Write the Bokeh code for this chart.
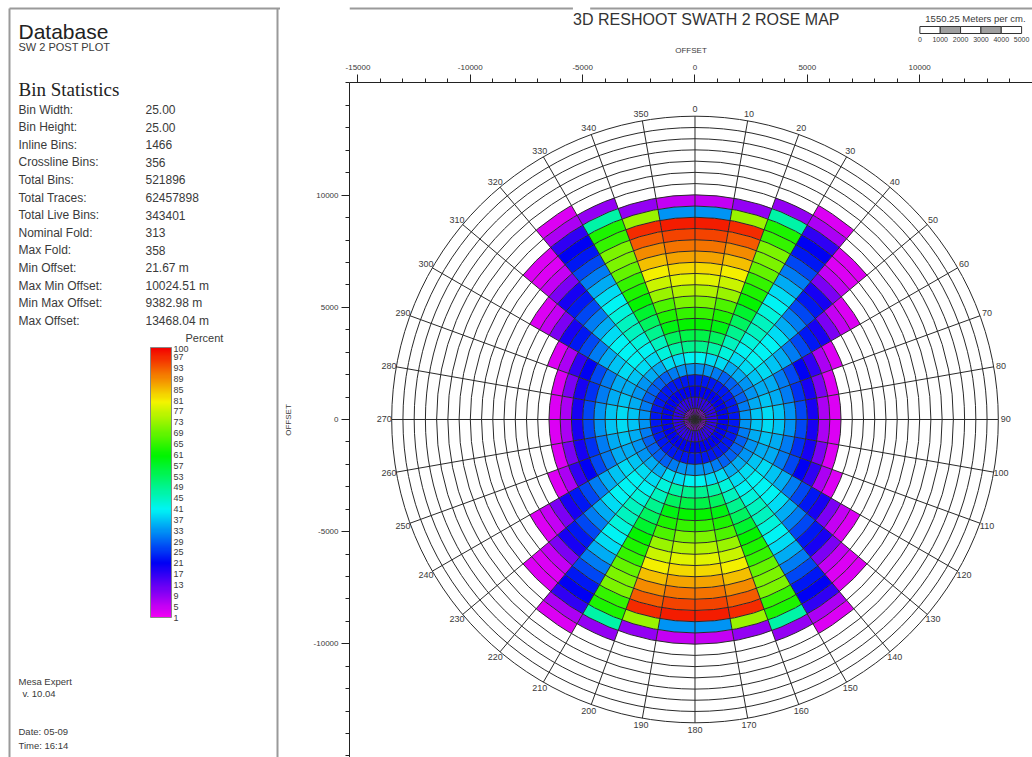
import math
import colorsys
from bokeh.plotting import figure
from bokeh.layouts import row, column
from bokeh.models import (Range1d, LinearColorMapper, ColorBar, FixedTicker, AllLabels,
                          ColumnDataSource, PrintfTickFormatter)
from bokeh.transform import linear_cmap
from bokeh.core.properties import value
from bokeh.embed import file_html
from bokeh.resources import INLINE

# ---------------- data ----------------
RING_STEP = 500        # metres per ring
N_RINGS = 27           # grid rings out to 13500 m
SECTOR_STEP = 10       # degrees per azimuth sector

# percent of max fold, ring by ring from the centre outward, first quadrant sectors
S00 = [9, 17, 21, 23, 33, 41, 49, 55, 61, 65, 71, 75, 79, 83, 87, 91, 95, 98, 33, 5]
S10 = [9, 17, 21, 23, 33, 39, 47, 53, 59, 63, 67, 73, 77, 81, 85, 89, 93, 97, 73, 9]
S20 = [9, 17, 21, 23, 31, 39, 43, 45, 49, 53, 57, 61, 63, 65, 69, 71, 71, 65, 63, 47, 9]
S30 = [9, 17, 21, 23, 29, 35, 39, 41, 43, 45, 45, 43, 41, 39, 35, 31, 27, 23, 21, 17, 7, 3]
S40 = [9, 17, 21, 23, 29, 35, 39, 41, 41, 41, 39, 35, 31, 27, 23, 19, 11, 5, 3, 3]
S50 = [9, 17, 21, 23, 29, 33, 37, 39, 37, 35, 31, 27, 23, 19, 11, 5, 3]
S60 = [9, 17, 21, 23, 29, 33, 35, 35, 31, 27, 21, 17, 7, 3]
S70 = [9, 17, 21, 23, 31, 35, 37, 35, 31, 25, 19, 11, 3]
S80 = [9, 17, 21, 23, 33, 37, 39, 37, 33, 27, 19, 7, 3]
QUADRANT = [S00, S10, S20, S30, S40, S50, S60, S70, S80]

STAT_NAMES = ["Bin Width:", "Bin Height:", "Inline Bins:", "Crossline Bins:", "Total Bins:",
              "Total Traces:", "Total Live Bins:", "Nominal Fold:", "Max Fold:", "Min Offset:",
              "Max Min Offset:", "Min Max Offset:", "Max Offset:"]
STAT_VALUES = ["25.00", "25.00", "1466", "356", "521896", "62457898", "343401", "313", "358",
               "21.67 m", "10024.51 m", "9382.98 m", "13468.04 m"]
CBAR_TICKS = [1, 5, 9, 13, 17, 21, 25, 29, 33, 37, 41, 45, 49, 53, 57, 61, 65, 69, 73, 77,
              81, 85, 89, 93, 97, 100]
X_MAJOR = [-15000, -10000, -5000, 0, 5000, 10000]
Y_MAJOR = [-10000, -5000, 0, 5000, 10000]
MINOR = list(range(-15000, 15001, 1000))
SCALE_LABELS = ["0", "1000", "2000", "3000", "4000", "5000"]

# ---------------- palette ----------------
PALETTE = []
for i in range(256):
    t = i / 255.0
    r, g, b = colorsys.hsv_to_rgb(300.0 * (1 - t) / 360.0, 1.0, 0.96)
    PALETTE.append("#%02x%02x%02x" % (int(r * 255), int(g * 255), int(b * 255)))

SANS = value("Liberation Sans")
SERIF = value("Liberation Serif")
TXT = "#3a3a3a"
BORDER = "#9a9a9a"

# ---------------- left panel ----------------
LW, LH = 280, 757
left = figure(width=LW, height=LH, x_range=Range1d(0, LW), y_range=Range1d(LH, 0),
              x_axis_type=None, y_axis_type=None, toolbar_location=None,
              output_backend="svg", min_border=0)
left.grid.visible = False
left.outline_line_color = None
left.segment(x0=[9, 9, 277], y0=[8, 8, 8], x1=[LW, 9, 277], y1=[8, LH, LH],
             line_color=BORDER, line_width=2)
left.text(x=[18], y=[31], text=["Database"], text_font=SANS, text_font_size="21px",
          text_color="#222222", text_baseline="middle")
left.text(x=[18], y=[46], text=["SW 2 POST PLOT"], text_font=SANS, text_font_size="11px",
          text_color=TXT, text_baseline="middle")
left.text(x=[18], y=[89], text=["Bin Statistics"], text_font=SERIF, text_font_size="19px",
          text_color="#222222", text_baseline="middle")
ys = [109 + 17.6 * i for i in range(len(STAT_NAMES))]
left.text(x=[18] * len(STAT_NAMES), y=ys, text=STAT_NAMES, text_font=SANS,
          text_font_size="12px", text_color=TXT, text_baseline="middle")
left.text(x=[145] * len(STAT_VALUES), y=ys, text=STAT_VALUES, text_font=SANS,
          text_font_size="12px", text_color=TXT, text_baseline="middle")
left.text(x=[185], y=[337], text=["Percent"], text_font=SANS, text_font_size="11px",
          text_color=TXT, text_baseline="middle")
left.text(x=[18, 22, 18, 18], y=[681, 693, 731, 745],
          text=["Mesa Expert", "v. 10.04", "Date: 05-09", "Time: 16:14"],
          text_font=SANS, text_font_size="9.5px", text_color=TXT, text_baseline="middle")

mapper = LinearColorMapper(palette=PALETTE, low=1, high=100.6)
cbar = ColorBar(color_mapper=mapper, ticker=FixedTicker(ticks=CBAR_TICKS),
                major_label_policy=AllLabels(),
                width=21, height=270, location=(150, 140), padding=0,
                major_label_text_font_size="9px", major_label_text_color=TXT,
                major_label_text_font="Liberation Sans",
                major_tick_line_color=None, bar_line_color="#888888",
                background_fill_alpha=0, border_line_color=None, label_standoff=2)
left.add_layout(cbar)

# ---------------- header ----------------
HW, HH = 752, 42
header = figure(width=HW, height=HH, x_range=Range1d(0, HW), y_range=Range1d(HH, 0),
                x_axis_type=None, y_axis_type=None, toolbar_location=None,
                output_backend="svg", min_border=0)
header.grid.visible = False
header.outline_line_color = None
header.segment(x0=[0, 265], y0=[8, 8], x1=[246, HW], y1=[8, 8], line_color=BORDER,
               line_width=2)
header.text(x=[393], y=[19], text=["3D RESHOOT SWATH 2 ROSE MAP"], text_font=SANS,
            text_font_size="16px", text_color="#333333", text_align="center",
            text_baseline="middle")
header.text(x=[634], y=[18], text=["1550.25  Meters per cm."], text_font=SANS,
            text_font_size="9.5px", text_color=TXT, text_baseline="middle")
seg_w = 22.4
x_bar = 628
header.quad(left=[x_bar + seg_w * k for k in range(5)],
            right=[x_bar + seg_w * (k + 1) for k in range(5)],
            top=[26] * 5, bottom=[33] * 5,
            fill_color=["white", "#a0a0a0", "white", "#a0a0a0", "white"],
            line_color="#333333", line_width=1)
header.text(x=[x_bar + seg_w * k for k in range(6)], y=[38.5] * 6, text=SCALE_LABELS,
            text_font=SANS, text_font_size="7px", text_color=TXT, text_align="center",
            text_baseline="middle")

# ---------------- rose map ----------------
src = dict(inner=[], outer=[], start=[], end=[], pct=[])
for s in range(360 // SECTOR_STEP):
    a0 = s * SECTOR_STEP
    q = [s, 17 - s, s - 18, 35 - s][s // 9]
    for k, v in enumerate(QUADRANT[q]):
        src["inner"].append(k * RING_STEP)
        src["outer"].append((k + 1) * RING_STEP)
        src["start"].append(90 - a0 - SECTOR_STEP)
        src["end"].append(90 - a0)
        src["pct"].append(v)
source = ColumnDataSource(src)

rose = figure(width=752, height=715, x_range=Range1d(-15378, 15022),
              y_range=Range1d(-15067, 15022), x_axis_location="above",
              toolbar_location=None, output_backend="svg",
              min_border_left=68, min_border_top=38, min_border_right=0, min_border_bottom=0)
rose.grid.visible = False
rose.outline_line_color = None

rose.annular_wedge(x=0, y=0, inner_radius="inner", outer_radius="outer",
                   start_angle="start", end_angle="end", start_angle_units="deg",
                   end_angle_units="deg", fill_color=linear_cmap("pct", PALETTE, 1, 100.6),
                   line_color=None, source=source)
R_MAX = N_RINGS * RING_STEP
rose.circle(x=0, y=0, radius=[RING_STEP * (k + 1) for k in range(N_RINGS)],
            fill_color=None, line_color="#2a2a2a", line_width=1)
angles = list(range(0, 360, SECTOR_STEP))
rose.ray(x=0, y=0, length=R_MAX, length_units="data", angle=[90 - a for a in angles],
         angle_units="deg", line_color="#2a2a2a", line_width=1)
R_LAB = R_MAX + 330
rose.text(x=[R_LAB * math.sin(math.radians(a)) for a in angles],
          y=[R_LAB * math.cos(math.radians(a)) for a in angles],
          text=[str(a) for a in angles], text_font=SANS, text_font_size="9px",
          text_color=TXT, text_align="center", text_baseline="middle")

rose.xaxis.ticker = FixedTicker(ticks=X_MAJOR, minor_ticks=MINOR)
rose.yaxis.ticker = FixedTicker(ticks=Y_MAJOR, minor_ticks=MINOR)
for ax in (rose.xaxis, rose.yaxis):
    ax.formatter = PrintfTickFormatter(format="%d")
    ax.axis_label = "OFFSET"
    ax.axis_label_text_font_size = "8px"
    ax.axis_label_text_font_style = "normal"
    ax.axis_label_text_font = "Liberation Sans"
    ax.axis_label_text_color = TXT
    ax.major_label_text_font_size = "8px"
    ax.major_label_text_font = "Liberation Sans"
    ax.major_label_text_color = TXT
    ax.major_tick_in = 0
    ax.major_tick_out = 8
    ax.minor_tick_in = 0
    ax.minor_tick_out = 4
    ax.axis_line_color = "#222222"
    ax.major_tick_line_color = "#222222"
    ax.minor_tick_line_color = "#222222"
rose.xaxis.axis_label_standoff = 7
rose.xaxis.major_label_standoff = 5
rose.yaxis.axis_label_standoff = 18
rose.yaxis.major_label_standoff = 3

layout = row(left, column(header, rose))
open("out.html", "w").write(file_html(layout, INLINE))
